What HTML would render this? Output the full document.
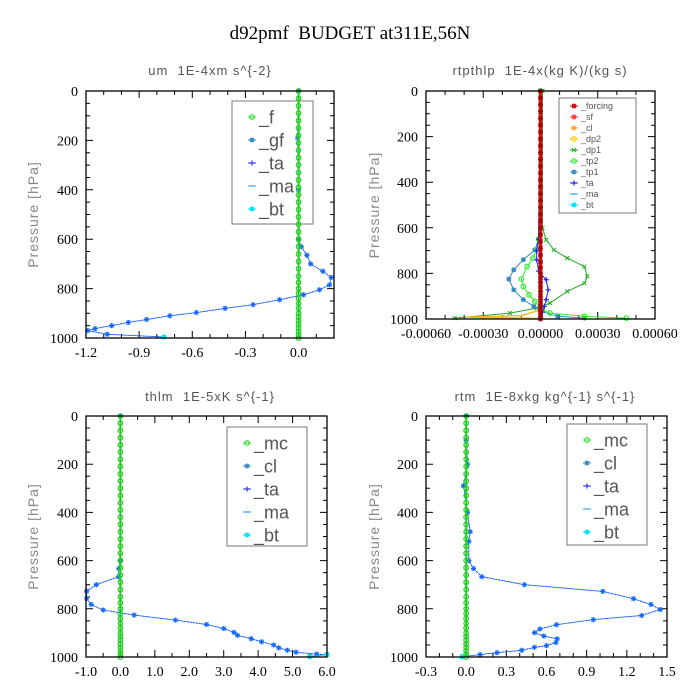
<!DOCTYPE html>
<html><head><meta charset="utf-8"><style>
html,body{margin:0;padding:0;background:#fff;}
svg{display:block;}
text{white-space:pre;}
.tk{font-family:"Liberation Serif",serif;font-size:14px;fill:#000;}
.pt{font-family:"Liberation Sans",sans-serif;font-size:13px;fill:#555;letter-spacing:1px;}
.yl{font-family:"Liberation Sans",sans-serif;font-size:14px;fill:#888;letter-spacing:1px;}
</style></head><body>
<svg id="chart" width="700" height="700" xmlns="http://www.w3.org/2000/svg">
<text x="350" y="39" text-anchor="middle" font-family="Liberation Serif,serif" font-size="19" xml:space="preserve">d92pmf  BUDGET at311E,56N</text>
</svg>
<script>
// ---- data ----
const zeroLevels=[0,30,60,90,120,150,180,210,240,270,300,330,360,390,420,450,480,510,540,570,600,630,660,690,720,750,775,800,820,840,860,880,900,915,930,945,960,975,988,1000];
// um panel
const umP=[0,190,400,600,630,665,700,730,755,785,805,825,845,865,880,897,910,925,937,950,962,970,985,996];
const umV=[0,-0.005,0,0,0.015,0.047,0.068,0.137,0.184,0.175,0.118,0.028,-0.107,-0.257,-0.415,-0.577,-0.727,-0.858,-0.961,-1.055,-1.149,-1.19,-1.08,-0.76];
// rtpthlp panel
const dp1P=[0,600,653,697,733,770,813,843,879,930,952,974,996];
const dp1V=[0.00001,0.00001,0.00003,0.00007,0.00014,0.00023,0.000245,0.00023,0.00014,0.00005,-0.00002,-0.00016,-0.00045];
const tp1P=[0,650,697,740,784,825,872,915,945,966,988,996];
const tp1V=[0,-0.00001,-0.00003,-0.00009,-0.00014,-0.000166,-0.00014,-0.00009,-0.000035,0,0.00009,0.00023];
const tp2P=[0,650,697,733,770,825,857,894,923,959,974,988,996];
const tp2V=[0,-0.00001,-0.00002,-0.00004,-0.00007,-0.0001,-0.00009,-0.00006,-0.00003,0.00001,0.00005,0.00023,0.00045];
const taP=[0,650,700,740,790,828,872,915,945,970,1000];
const taV=[0,-0.00001,-0.00002,-0.00002,-0.00001,0.00003,0.00004,0.00003,0.00002,0.00001,0];
const dp2P=[0,960,985,992,998];
const dp2V=[0,0,-0.0001,-0.000375,0];
// thlm panel
const thP=[0,600,633,667,700,727,757,782,805,826,847,865,882,898,910,924,937,950,962,972,980,988,990,997];
const thV=[0,0,-0.05,-0.05,-0.7,-0.98,-0.98,-0.85,-0.5,0.4,1.6,2.5,3.0,3.3,3.4,3.8,4.1,4.45,4.6,4.85,5.1,5.7,6.0,5.5];
// rtm panel
const rtP=[0,100,200,290,400,480,520,600,633,667,700,728,758,782,803,828,845,866,884,899,913,925,940,953,960,972,982,990,999];
const rtV=[0,0,0.01,-0.02,0.01,0.03,0.02,0.02,0.055,0.117,0.435,1.02,1.25,1.38,1.45,1.31,0.95,0.675,0.55,0.51,0.58,0.68,0.67,0.6,0.51,0.415,0.23,0.104,-0.03];
// tick labels
const um_xt=["-1.2","-0.9","-0.6","-0.3","0.0"];
const rp_xt=["-0.00060","-0.00030","0.00000","0.00030","0.00060"];
const th_xt=["-1.0","0.0","1.0","2.0","3.0","4.0","5.0","6.0"];
const rt_xt=["-0.3","0.0","0.3","0.6","0.9","1.2","1.5"];
const yTicks=["0","200","400","600","800","1000"];

const NS="http://www.w3.org/2000/svg";
const svg=document.getElementById('chart');
function el(tag,attrs,parent){const e=document.createElementNS(NS,tag);for(const k in attrs)e.setAttribute(k,attrs[k]);(parent||svg).appendChild(e);return e;}

function marker(g,type,x,y,c){
  let m;
  if(type==='o'){m=el('circle',{cx:x,cy:y,r:2.3,fill:'none',stroke:c,'stroke-width':1.2},g);}
  else if(type==='*'){m=el('path',{d:`M${x-2.5},${y}H${x+2.5}M${x},${y-2.5}V${y+2.5}M${x-2},${y-2}L${x+2},${y+2}M${x-2},${y+2}L${x+2},${y-2}`,stroke:c,'stroke-width':1.2},g);}
  else if(type==='+'){m=el('path',{d:`M${x-2.5},${y}H${x+2.5}M${x},${y-2.5}V${y+2.5}`,stroke:c,'stroke-width':1.2},g);}
  else if(type==='x'){m=el('path',{d:`M${x-2},${y-2}L${x+2},${y+2}M${x-2},${y+2}L${x+2},${y-2}`,stroke:c,'stroke-width':1},g);}
  else if(type==='-'){m=el('path',{d:`M${x-2.5},${y}H${x+2.5}`,stroke:c,'stroke-width':1.2},g);}
  else {m=el('circle',{cx:x,cy:y,r:2.5,fill:c},g);}
  
  
}

function panel(cfg){
  const {L,R,T,B,xmin,xmax,name}=cfg;
  const g=el('g',{});
  
  
  const X=v=>L+(v-xmin)/(xmax-xmin)*(R-L);
  const Y=p=>T+p/1000*(B-T);
  // legend (behind data)
  const lg=cfg.leg;
  const lgg=el('g',{},g);
  
  
  const lb=el('rect',{x:lg.x,y:lg.y,width:lg.w,height:lg.h,fill:'none',stroke:'#777','stroke-width':1},lgg);
  
  
  lg.items.forEach((it,i)=>{
    const cy=lg.y+lg.first+i*lg.dy;
    const lx=lg.x+lg.mx;
    const e=el('path',{d:`M${lx-4},${cy}h8`,stroke:it.c,'stroke-width':1},lgg);
    
    
    marker(lgg,it.m,lx,cy,it.c);
    const t=el('text',{x:lx+7,y:cy+lg.fs*0.35,'font-family':'Liberation Sans,sans-serif','font-size':lg.fs,fill:'#555','letter-spacing':lg.ls||0},lgg);
    t.textContent=it.l;
    
    
  });
  // ticks
  let tk='';
  for(let p=0;p<=1000;p+=50){const len=(p%200===0)?7:4;const y=Y(p);tk+=`M${L},${y}h${len}M${R},${y}h${-len}`;}
  const nMin=Math.round((xmax-xmin)/cfg.minor);
  for(let i=0;i<=nMin;i++){const v=xmin+i*cfg.minor;const x=X(v);const maj=Math.abs(((v-cfg.majStart)/cfg.major)-Math.round((v-cfg.majStart)/cfg.major))<1e-6;const len=maj?7:4;tk+=`M${x},${B}v${-len}M${x},${T}v${len}`;}
  const tp=el('path',{d:tk,stroke:'#000','stroke-width':1,fill:'none'},g);
  
  
  // series
  cfg.series.forEach(s=>{
    const sg=el('g',{},g);
    
    
    const pts=s.p.map((p,i)=>X(s.v[i]).toFixed(1)+','+Y(p).toFixed(1)).join(' ');
    const ln=el('polyline',{points:pts,fill:'none',stroke:s.lc||s.c,'stroke-width':s.w||1,'stroke-dasharray':s.dash||'none'},sg);
    
    
    s.p.forEach((p,i)=>{marker(sg,s.m,X(s.v[i]),Y(p),s.mc||s.c);});
  });
  // frame
  const fr=el('rect',{x:L,y:T,width:R-L,height:B-T,fill:'none',stroke:'#000','stroke-width':1.3},g);
  
  
  cfg.xt.forEach((t,i)=>{const v=cfg.majStart+i*cfg.major;const tx=el('text',{x:X(v),y:B+19,'text-anchor':'middle',class:'tk'},g);tx.textContent=t;
    
    });
  yTicks.forEach((t,i)=>{const ty=el('text',{x:L-8,y:Y(i*200)+5,'text-anchor':'end',class:'tk'},g);ty.textContent=t;
    
    });
  const yl=el('text',{x:cfg.ylx,y:(T+B)/2,'text-anchor':'middle',class:'yl',transform:`rotate(-90 ${cfg.ylx} ${(T+B)/2})`},g);
  yl.textContent='Pressure [hPa]';
  
  
  const tt=el('text',{x:cfg.tx,y:cfg.ty,'text-anchor':'middle',class:'pt'},g);
  tt.textContent=cfg.title;
  
  
}

const zeros=zeroLevels.map(()=>0);
const blue='#1a5cff', sky='#3399ee', cyan='#00e5ff', green='#22cc22';

panel({name:'um',L:86,R:334,T:91,B:338,xmin:-1.2,xmax:0.2,minor:0.1,major:0.3,majStart:-1.2,xt:um_xt,ylx:38,tx:210,ty:75,title:'um  1E-4xm s^{-2}',
 series:[
  {label:'_ma',p:umP,v:umV,c:blue,lc:blue,dash:'2,1',m:'*',mc:sky},
  {label:'_ta',p:umP,v:umV,c:blue,m:'+',w:0.5},
  {label:'_f',p:zeroLevels,v:zeros,c:green,m:'o',w:2},
  {label:'_bt',p:[996],v:[-0.76],c:cyan,m:'b',w:0}
 ],
 leg:{x:232,y:101,w:81,h:123,first:16,dy:23,mx:20,fs:18,items:[{l:'_f',c:'#33dd33',m:'o'},{l:'_gf',c:'#3388bb',m:'*'},{l:'_ta',c:'#3333ee',m:'+'},{l:'_ma',c:'#3399ff',m:'-'},{l:'_bt',c:cyan,m:'b'}]}
});

panel({name:'rtpthlp',L:426,R:655,T:91,B:319,xmin:-0.0006,xmax:0.0006,minor:0.0001,major:0.0003,majStart:-0.0006,xt:rp_xt,ylx:379,tx:540,ty:75,title:'rtpthlp  1E-4x(kg K)/(kg s)',
 series:[
  {label:'_dp1',p:dp1P,v:dp1V,c:'#22aa22',m:'x'},
  {label:'_tp1',p:tp1P,v:tp1V,c:'#3388bb',m:'*'},
  {label:'_tp2',p:tp2P,v:tp2V,c:'#33ee33',m:'o'},
  {label:'_ta',p:taP,v:taV,c:'#2222ee',m:'+'},
  {label:'_dp2',p:dp2P,v:dp2V,c:'#ffbb22',m:'-',w:1.5},
  {label:'_forcing',p:zeroLevels,v:zeros,c:'#dd1111',mc:'#aa0000',m:'*',w:3.5}
 ],
 leg:{x:559,y:98,w:77,h:115,first:8,dy:11,mx:15,fs:9,items:[{l:'_forcing',c:'#cc0000',m:'*'},{l:'_sf',c:'#ff3333',m:'*'},{l:'_cl',c:'#ffaa33',m:'*'},{l:'_dp2',c:'#ffcc00',m:'o'},{l:'_dp1',c:'#22aa22',m:'x'},{l:'_tp2',c:'#33ee33',m:'o'},{l:'_tp1',c:'#3388bb',m:'*'},{l:'_ta',c:'#2222ee',m:'+'},{l:'_ma',c:'#3399ff',m:'-'},{l:'_bt',c:cyan,m:'b'}]}
});

panel({name:'thlm',L:86,R:327,T:416,B:657,xmin:-1,xmax:6,minor:0.5,major:1,majStart:-1,xt:th_xt,ylx:38,tx:210,ty:401,title:'thlm  1E-5xK s^{-1}',
 series:[
  {label:'_ma',p:thP,v:thV,c:blue,dash:'2,1',m:'*',mc:sky},
  {label:'_ta',p:thP,v:thV,c:blue,m:'+',w:0.5},
  {label:'_mc',p:zeroLevels,v:zeros,c:green,m:'o',w:2},
  {label:'_bt',p:[1000,990],v:[5.5,6.0],c:cyan,m:'b',w:0}
 ],
 leg:{x:227,y:427,w:80,h:119,first:16,dy:23,mx:20,fs:18,items:[{l:'_mc',c:'#33dd33',m:'o'},{l:'_cl',c:'#3388bb',m:'*'},{l:'_ta',c:'#3333ee',m:'+'},{l:'_ma',c:'#3399ff',m:'-'},{l:'_bt',c:cyan,m:'b'}]}
});

panel({name:'rtm',L:426,R:667,T:416,B:657,xmin:-0.3,xmax:1.5,minor:0.1,major:0.3,majStart:-0.3,xt:rt_xt,ylx:379,tx:545,ty:401,title:'rtm  1E-8xkg kg^{-1} s^{-1}',
 series:[
  {label:'_ma',p:rtP,v:rtV,c:blue,dash:'2,1',m:'*',mc:sky},
  {label:'_ta',p:rtP,v:rtV,c:blue,m:'+',w:0.5},
  {label:'_mc',p:zeroLevels,v:zeros,c:green,m:'o',w:2},
  {label:'_bt',p:[999],v:[-0.03],c:cyan,m:'b',w:0}
 ],
 leg:{x:567,y:424,w:80,h:121,first:16,dy:23,mx:20,fs:18,items:[{l:'_mc',c:'#33dd33',m:'o'},{l:'_cl',c:'#3388bb',m:'*'},{l:'_ta',c:'#3333ee',m:'+'},{l:'_ma',c:'#3399ff',m:'-'},{l:'_bt',c:cyan,m:'b'}]}
});
</script>
</body></html>
